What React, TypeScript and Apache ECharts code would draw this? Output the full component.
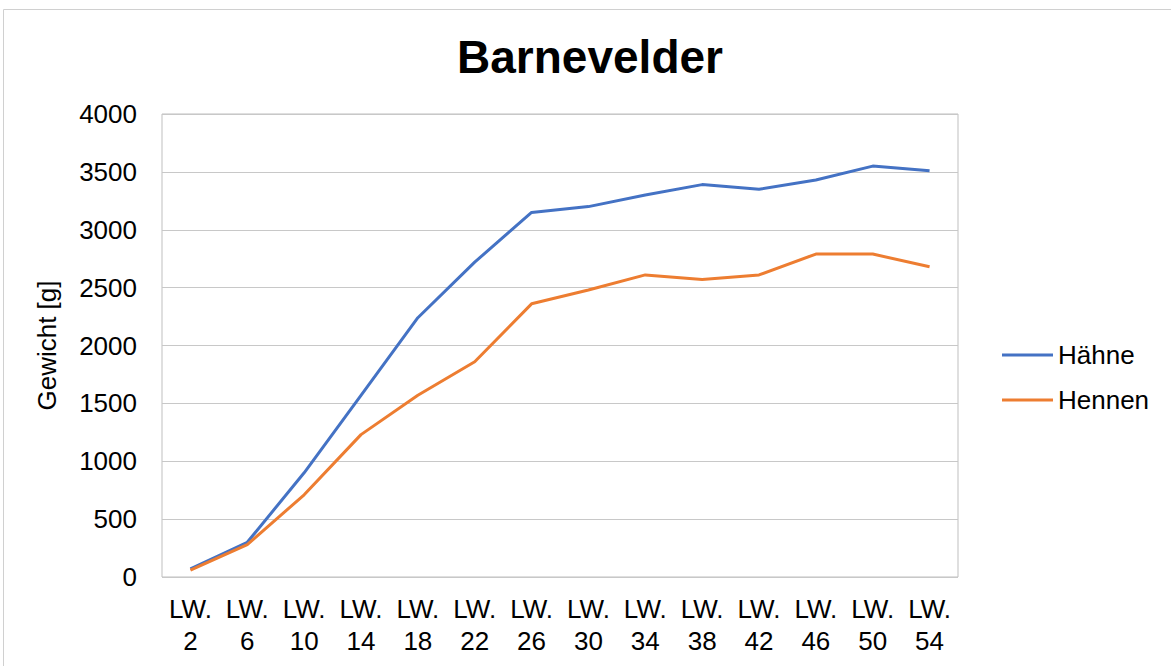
import React, { useEffect, useRef } from "react";
import * as echarts from "echarts";

const categories = ["LW.\n2", "LW.\n6", "LW.\n10", "LW.\n14", "LW.\n18", "LW.\n22", "LW.\n26", "LW.\n30", "LW.\n34", "LW.\n38", "LW.\n42", "LW.\n46", "LW.\n50", "LW.\n54"];
const haehne = [70, 300, 900, 1570, 2240, 2720, 3150, 3200, 3300, 3390, 3350, 3430, 3550, 3510];
const hennen = [60, 280, 710, 1230, 1570, 1860, 2360, 2480, 2610, 2570, 2610, 2790, 2790, 2680];

const FONT = "'Liberation Sans', Arial, sans-serif";

export default function App() {
  const ref = useRef<HTMLDivElement>(null);
  useEffect(() => {
    const chart = echarts.init(ref.current!, null, { renderer: "svg" });
    chart.setOption({
      animation: false,
      backgroundColor: "#ffffff",
      title: {
        text: "Barnevelder",
        left: 585,
        textAlign: "center",
        top: 29,
        textStyle: { fontFamily: FONT, fontSize: 46, fontWeight: "bold", color: "#000" },
      },
      graphic: [
        {
          type: "rect",
          shape: { x: 3.5, y: 9.5, width: 1300, height: 800 },
          style: { fill: "none", stroke: "#d0d0d0", lineWidth: 1 },
          silent: true,
        },
      ],
      legend: {
        orient: "vertical",
        left: 997,
        top: 337,
        itemWidth: 51,
        itemHeight: 3,
        itemGap: 19,
        icon: "rect",
        textStyle: { fontFamily: FONT, fontSize: 26, color: "#000" },
        data: ["Hähne", "Hennen"],
      },
      grid: {
        left: 162,
        right: 213,
        top: 114,
        bottom: 89,
        show: true,
        borderColor: "#bfbfbf",
        borderWidth: 1,
      },
      xAxis: {
        type: "category",
        data: categories,
        boundaryGap: true,
        axisLine: { show: false },
        axisTick: { show: false },
        axisLabel: {
          interval: 0,
          margin: 16,
          fontFamily: FONT,
          fontSize: 26,
          lineHeight: 32,
          color: "#000",
          align: "center",
        },
      },
      yAxis: {
        type: "value",
        min: 0,
        max: 4000,
        interval: 500,
        name: "Gewicht [g]",
        nameLocation: "middle",
        nameGap: 102,
        nameTextStyle: { fontFamily: FONT, fontSize: 26, color: "#000" },
        axisLine: { show: false },
        axisTick: { show: false },
        splitLine: { lineStyle: { color: "#c8c8c8", width: 1 } },
        axisLabel: {
          margin: 25,
          fontFamily: FONT,
          fontSize: 26,
          color: "#000",
          formatter: (v: number) => String(v),
        },
      },
      series: [
        {
          name: "Hähne",
          type: "line",
          data: haehne,
          symbol: "none",
          lineStyle: { color: "#4472C4", width: 3 },
          itemStyle: { color: "#4472C4" },
        },
        {
          name: "Hennen",
          type: "line",
          data: hennen,
          symbol: "none",
          lineStyle: { color: "#ED7D31", width: 3 },
          itemStyle: { color: "#ED7D31" },
        },
      ],
    });
    return () => chart.dispose();
  }, []);
  return (
    <div
      ref={ref}
      style={{ position: "fixed", left: 0, top: 0, width: 1171, height: 666 }}
    />
  );
}
